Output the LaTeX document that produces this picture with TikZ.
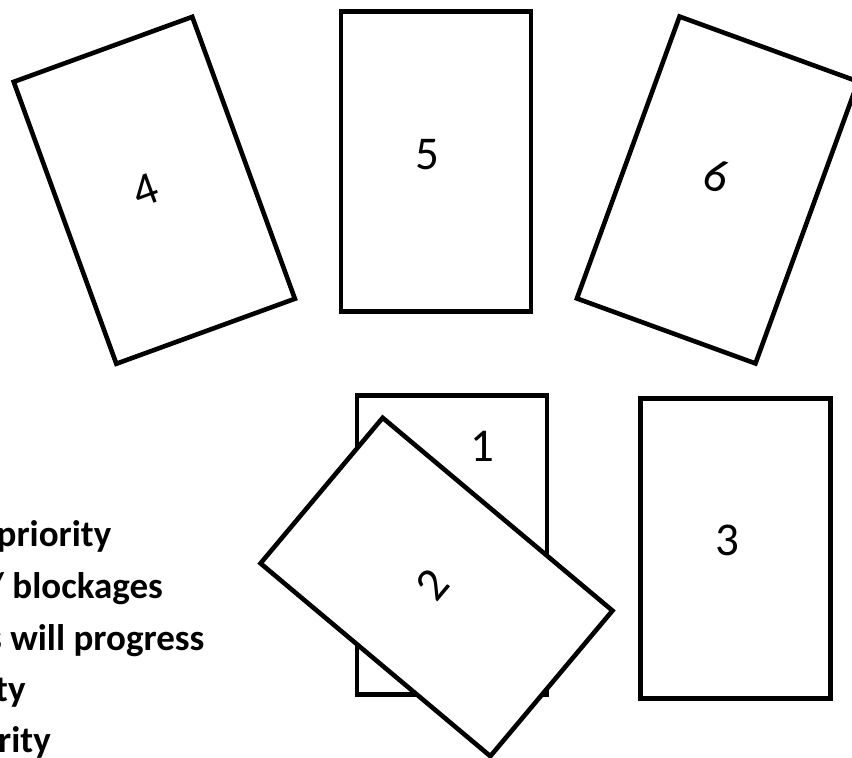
\documentclass[tikz,border=0pt]{standalone}
\usepackage{fontspec}
\setmainfont{Carlito}
\begin{document}
\begin{tikzpicture}[x=1pt,y=1pt,
  card/.style={draw=black, line width=4.6pt, fill=white, minimum width=190pt, minimum height=300pt, inner sep=0pt},
  num/.style={font=\fontsize{47}{47}\selectfont, inner sep=0pt},
  item/.style={font=\fontsize{37}{37}\selectfont\bfseries, inner sep=0pt, anchor=base west}]
\useasboundingbox (0,0) rectangle (852,-758);
\clip (0,0) rectangle (852,-758);
\node[card, rotate=20] (c4) at (154.3,-190.3) {};
\node[card] (c5) at (436,-161.7) {};
\node[card, rotate=-20] (c6) at (717.5,-190) {};
\node[card] (c3) at (735.5,-548.5) {};
\node[card, minimum height=299pt] (c1) at (452,-545) {};
\node[card, rotate=50] (c2) at (436.5,-587) {};
\node[num] (n5) at (427,-155) {5};
\node[num] (n3) at (727,-540) {3};
\node[num] (n1) at (482,-446) {1};
\node[num, rotate=50] (n2) at (432,-585) {2};
\node[num, rotate=20] (n4) at (146,-190) {4};
\node[num, rotate=-20] (n6) at (717,-176) {6};
\node[item] (t1) at (-3.5,-546) {priority};
\node[item] (t2) at (-12,-598) {/ blockages};
\node[item] (t3) at (-13,-650) {s will progress};
\node[item] (t4) at (-5,-701) {ty};
\node[item] (t5) at (-2,-752) {rity};
\end{tikzpicture}
\end{document}
